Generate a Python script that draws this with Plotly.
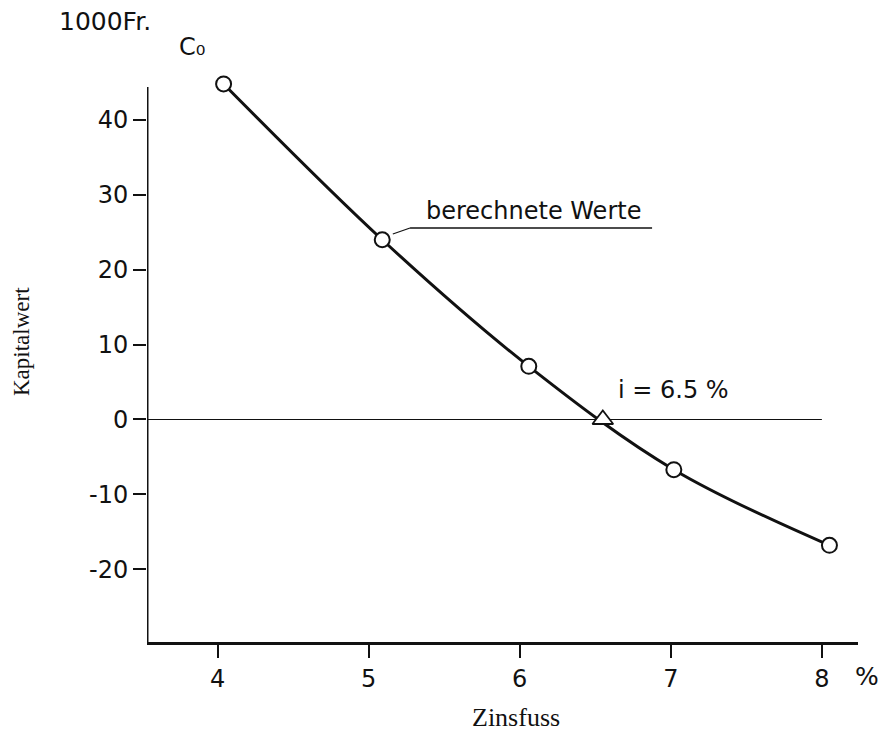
import plotly.graph_objects as go

# Data
zins = [4.04, 5.09, 6.06, 7.02, 8.05]          # Zinsfuss in %
kapitalwert = [44.8, 24.0, 7.1, -6.7, -16.8]   # Kapitalwert in 1000 Fr.
irr_x = [6.55]
irr_y = [0.0]
xtick_vals = [4, 5, 6, 7, 8]
xtick_text = ["4", "5", "6", "7", "8"]
ytick_vals = [40, 30, 20, 10, 0, -10, -20]
ytick_text = ["40", "30", "20", "10", "0", "-10", "-20"]

X_RANGE = [3.533, 8.239]
Y_RANGE = [-29.71, 48.0]
AXIS_TOP = 44.4

sans = "DejaVu Sans"
serif = "Liberation Serif"
ink = "#111111"

fig = go.Figure()

# zero line
fig.add_shape(type="line", xref="x", yref="y", x0=X_RANGE[0], x1=8.0, y0=0, y1=0,
              line=dict(color=ink, width=1.2), layer="below")
# left axis line
fig.add_shape(type="line", xref="x", yref="y", x0=X_RANGE[0], x1=X_RANGE[0],
              y0=Y_RANGE[0], y1=AXIS_TOP, line=dict(color=ink, width=3))

# curve
fig.add_trace(go.Scatter(x=zins, y=kapitalwert, mode="lines",
                         line=dict(color=ink, width=3, shape="spline", smoothing=1.0),
                         hoverinfo="skip", showlegend=False))
# computed points
fig.add_trace(go.Scatter(x=zins, y=kapitalwert, mode="markers",
                         marker=dict(symbol="circle", size=15, color="white",
                                     line=dict(color=ink, width=2)),
                         cliponaxis=False, showlegend=False))
# internal rate of return
fig.add_trace(go.Scatter(x=irr_x, y=irr_y, mode="markers",
                         marker=dict(symbol="triangle-up", size=18, color="white",
                                     line=dict(color=ink, width=1.8)),
                         cliponaxis=False, showlegend=False))

# leader line + underline for "berechnete Werte"
fig.add_shape(type="line", xref="x", yref="y", x0=5.16, y0=24.77, x1=5.274, y1=25.57,
              line=dict(color=ink, width=1.2))
fig.add_shape(type="line", xref="x", yref="y", x0=5.274, y0=25.57, x1=6.876, y1=25.57,
              line=dict(color=ink, width=1.5))

ann = [
    dict(text="berechnete Werte", x=6.088, y=27.9, xref="x", yref="y",
         font=dict(family=sans, size=24, color=ink)),
    dict(text="i = 6.5 %", x=7.021, y=3.9, xref="x", yref="y",
         font=dict(family=sans, size=24, color=ink)),
    dict(text="C₀", x=0.0633, y=1.0223, xref="paper", yref="paper",
         font=dict(family=sans, size=24, color=ink)),
    dict(text="1000Fr.", x=-0.059, y=1.0653, xref="paper", yref="paper",
         font=dict(family=sans, size=25, color=ink)),
    dict(text="%", x=1.0127, y=-0.0601, xref="paper", yref="paper",
         font=dict(family=sans, size=25, color=ink)),
    dict(text="Zinsfuss", x=0.519, y=-0.129, xref="paper", yref="paper",
         font=dict(family=serif, size=26, color=ink)),
    dict(text="Kapitalwert", x=-0.1758, y=0.5155, xref="paper", yref="paper",
         textangle=-90, font=dict(family=serif, size=23, color=ink)),
]
for a in ann:
    a.update(showarrow=False, xanchor="center", yanchor="middle")
fig.update_layout(annotations=ann)

fig.update_layout(
    width=885, height=731,
    margin=dict(l=147, r=27, t=60, b=89),
    paper_bgcolor="white", plot_bgcolor="white",
    showlegend=False,
    xaxis=dict(range=X_RANGE, showline=True, linecolor=ink, linewidth=2.5,
               ticks="outside", ticklen=13, tickwidth=1.5, tickcolor=ink,
               tickvals=xtick_vals, ticktext=xtick_text,
               tickfont=dict(family=sans, size=24, color=ink),
               showgrid=False, zeroline=False, fixedrange=True),
    yaxis=dict(range=Y_RANGE, showline=False,
               ticks="outside", ticklen=13, tickwidth=1.5, tickcolor=ink,
               tickvals=ytick_vals, ticktext=ytick_text,
               tickfont=dict(family=sans, size=24, color=ink),
               showgrid=False, zeroline=False, fixedrange=True),
)

fig.write_html("out.html")
